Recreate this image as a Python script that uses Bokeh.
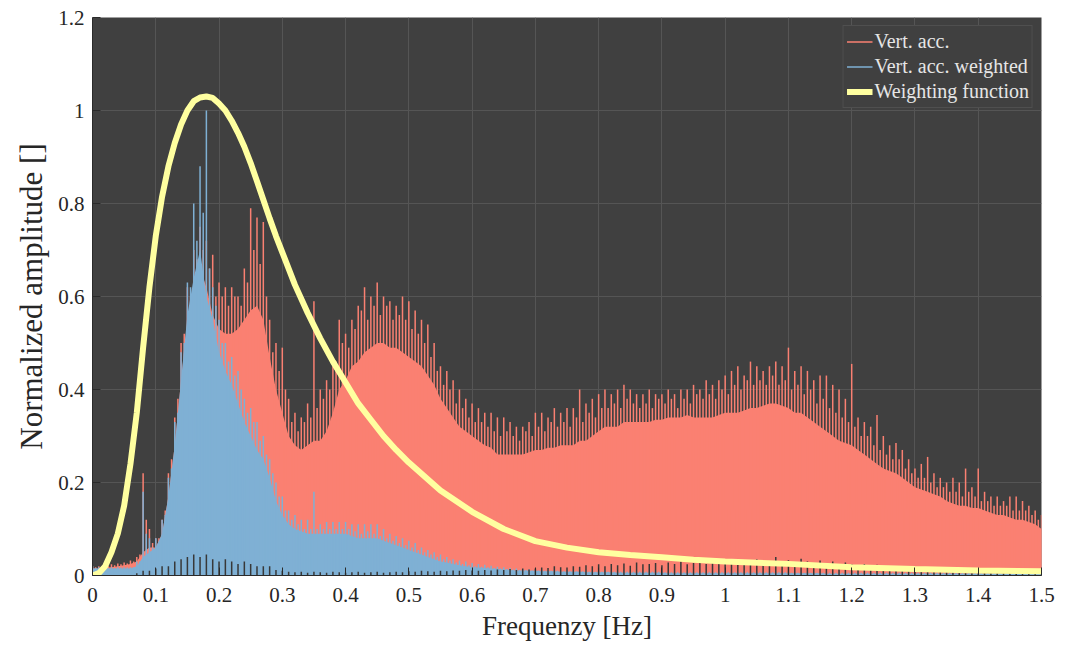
from bokeh.plotting import figure
from bokeh.models import (ColumnDataSource, Legend, LegendItem, Range1d,
                          FixedTicker, CustomJSTickFormatter)
from bokeh.embed import file_html
from bokeh.resources import INLINE

# Frequency grid of the amplitude spectra [Hz]
freq = [round(i * 0.01, 2) for i in range(151)]
# Intermediate bins, half a step to the right
freq_mid = [round(i * 0.01 + 0.005, 3) for i in range(150)]

# Vertical acceleration spectrum: dense level and tallest spike per bin
acc_level = [
    0.015, 0.015, 0.017, 0.018, 0.02, 0.022, 0.025, 0.03, 0.05, 0.06,
    0.06, 0.09, 0.17, 0.28, 0.42, 0.55, 0.62, 0.66, 0.62, 0.56,
    0.53, 0.52, 0.52, 0.53, 0.55, 0.57, 0.58, 0.55, 0.47, 0.40,
    0.35, 0.30, 0.28, 0.27, 0.28, 0.29, 0.29, 0.31, 0.35, 0.40,
    0.42, 0.45, 0.46, 0.48, 0.49, 0.50, 0.50, 0.49, 0.49, 0.48,
    0.47, 0.46, 0.45, 0.43, 0.41, 0.38, 0.36, 0.34, 0.32, 0.31,
    0.30, 0.29, 0.28, 0.275, 0.26, 0.26, 0.26, 0.26, 0.26, 0.265,
    0.27, 0.27, 0.275, 0.275, 0.28, 0.28, 0.28, 0.29, 0.29, 0.30,
    0.31, 0.32, 0.32, 0.32, 0.33, 0.33, 0.33, 0.33, 0.33, 0.335,
    0.335, 0.34, 0.34, 0.34, 0.345, 0.34, 0.34, 0.34, 0.34, 0.345,
    0.35, 0.35, 0.35, 0.355, 0.36, 0.36, 0.365, 0.37, 0.37, 0.365,
    0.36, 0.35, 0.35, 0.34, 0.33, 0.32, 0.31, 0.30, 0.29, 0.285,
    0.28, 0.27, 0.26, 0.25, 0.24, 0.23, 0.225, 0.22, 0.21, 0.20,
    0.19, 0.185, 0.18, 0.175, 0.17, 0.16, 0.155, 0.15, 0.15, 0.145,
    0.145, 0.14, 0.135, 0.13, 0.13, 0.125, 0.12, 0.12, 0.115, 0.11,
    0.10,
]
acc_peak = [
    0.02, 0.02, 0.022, 0.024, 0.026, 0.028, 0.032, 0.04, 0.22, 0.10,
    0.08, 0.12, 0.22, 0.34, 0.50, 0.62, 0.70, 0.75, 0.72, 0.69,
    0.63, 0.62, 0.62, 0.60, 0.66, 0.79, 0.77, 0.76, 0.55, 0.50,
    0.49, 0.38, 0.35, 0.34, 0.37, 0.59, 0.40, 0.42, 0.45, 0.55,
    0.52, 0.55, 0.58, 0.62, 0.60, 0.63, 0.60, 0.59, 0.58, 0.60,
    0.59, 0.57, 0.55, 0.54, 0.50, 0.45, 0.44, 0.42, 0.40, 0.38,
    0.37, 0.36, 0.35, 0.35, 0.34, 0.34, 0.33, 0.32, 0.32, 0.33,
    0.35, 0.35, 0.34, 0.36, 0.35, 0.36, 0.36, 0.40, 0.37, 0.38,
    0.39, 0.40, 0.39, 0.40, 0.41, 0.40, 0.39, 0.39, 0.40, 0.39,
    0.39, 0.40, 0.39, 0.40, 0.40, 0.41, 0.40, 0.42, 0.41, 0.42,
    0.43, 0.44, 0.45, 0.43, 0.46, 0.45, 0.44, 0.45, 0.46, 0.45,
    0.49, 0.44, 0.45, 0.44, 0.42, 0.43, 0.43, 0.41, 0.40, 0.38,
    0.455, 0.34, 0.33, 0.32, 0.345, 0.30, 0.28, 0.285, 0.27, 0.25,
    0.23, 0.24, 0.255, 0.22, 0.21, 0.20, 0.21, 0.20, 0.23, 0.19,
    0.23, 0.18, 0.17, 0.17, 0.16, 0.17, 0.17, 0.16, 0.15, 0.14,
    0.13,
]
acc_mid = [
    0.018, 0.019, 0.02, 0.022, 0.024, 0.026, 0.03, 0.045, 0.12, 0.07,
    0.08, 0.14, 0.25, 0.38, 0.52, 0.60, 0.68, 0.70, 0.66, 0.60,
    0.60, 0.58, 0.60, 0.58, 0.63, 0.70, 0.67, 0.60, 0.48, 0.44,
    0.40, 0.33, 0.31, 0.33, 0.34, 0.36, 0.38, 0.40, 0.46, 0.50,
    0.49, 0.53, 0.57, 0.55, 0.58, 0.56, 0.58, 0.55, 0.56, 0.55,
    0.53, 0.52, 0.50, 0.47, 0.44, 0.41, 0.40, 0.37, 0.36, 0.34,
    0.33, 0.33, 0.32, 0.31, 0.30, 0.31, 0.30, 0.29, 0.31, 0.30,
    0.32, 0.31, 0.33, 0.32, 0.33, 0.32, 0.34, 0.33, 0.35, 0.34,
    0.36, 0.36, 0.37, 0.36, 0.38, 0.37, 0.36, 0.37, 0.36, 0.38,
    0.37, 0.38, 0.36, 0.38, 0.37, 0.39, 0.38, 0.39, 0.38, 0.40,
    0.39, 0.41, 0.40, 0.42, 0.41, 0.42, 0.41, 0.43, 0.41, 0.42,
    0.40, 0.41, 0.39, 0.40, 0.37, 0.38, 0.36, 0.35, 0.34, 0.33,
    0.32, 0.30, 0.30, 0.28, 0.27, 0.26, 0.25, 0.25, 0.23, 0.22,
    0.21, 0.21, 0.20, 0.19, 0.19, 0.18, 0.18, 0.17, 0.18, 0.17,
    0.16, 0.16, 0.15, 0.15, 0.15, 0.14, 0.14, 0.14, 0.13, 0.12,
]

# Weighted vertical acceleration spectrum
wacc_level = [
    0.015, 0.015, 0.015, 0.015, 0.015, 0.015, 0.015, 0.02, 0.04, 0.05,
    0.06, 0.09, 0.17, 0.28, 0.42, 0.56, 0.64, 0.70, 0.60, 0.55,
    0.48, 0.44, 0.41, 0.37, 0.33, 0.30, 0.27, 0.25, 0.21, 0.16,
    0.13, 0.11, 0.10, 0.095, 0.09, 0.09, 0.09, 0.09, 0.09, 0.09,
    0.09, 0.085, 0.08, 0.08, 0.08, 0.08, 0.075, 0.07, 0.065, 0.06,
    0.055, 0.05, 0.045, 0.04, 0.035, 0.03, 0.028, 0.025, 0.022, 0.02,
    0.018, 0.017, 0.016, 0.015, 0.014, 0.013, 0.012, 0.011, 0.011, 0.01,
    0.01, 0.009, 0.009, 0.009, 0.008, 0.008, 0.008, 0.008, 0.007, 0.007,
    0.007, 0.007, 0.007, 0.006, 0.006, 0.006, 0.006, 0.006, 0.006, 0.006,
    0.006, 0.005, 0.005, 0.005, 0.005, 0.005, 0.005, 0.005, 0.005, 0.005,
    0.005, 0.005, 0.005, 0.005, 0.005, 0.005, 0.005, 0.005, 0.005, 0.005,
    0.005, 0.005, 0.005, 0.005, 0.005, 0.005, 0.004, 0.004, 0.004, 0.004,
    0.004, 0.004, 0.004, 0.004, 0.004, 0.004, 0.004, 0.004, 0.004, 0.004,
    0.004, 0.004, 0.004, 0.004, 0.004, 0.004, 0.004, 0.004, 0.004, 0.004,
    0.004, 0.004, 0.004, 0.004, 0.004, 0.004, 0.004, 0.004, 0.004, 0.004,
    0.004,
]
wacc_peak = [
    0.02, 0.018, 0.018, 0.018, 0.018, 0.018, 0.018, 0.03, 0.18, 0.08,
    0.08, 0.12, 0.21, 0.33, 0.48, 0.63, 0.80, 0.88, 1.00, 0.62,
    0.55, 0.50, 0.47, 0.44, 0.38, 0.36, 0.33, 0.30, 0.25, 0.20,
    0.17, 0.14, 0.13, 0.12, 0.12, 0.18, 0.11, 0.115, 0.115, 0.115,
    0.115, 0.11, 0.11, 0.11, 0.11, 0.11, 0.10, 0.09, 0.085, 0.08,
    0.075, 0.07, 0.06, 0.055, 0.05, 0.045, 0.04, 0.035, 0.032, 0.03,
    0.027, 0.025, 0.023, 0.021, 0.019, 0.018, 0.016, 0.015, 0.014, 0.013,
    0.012, 0.012, 0.011, 0.011, 0.01, 0.01, 0.01, 0.01, 0.009, 0.009,
    0.009, 0.009, 0.008, 0.008, 0.008, 0.008, 0.008, 0.008, 0.008, 0.008,
    0.008, 0.007, 0.007, 0.007, 0.007, 0.007, 0.007, 0.007, 0.007, 0.007,
    0.007, 0.007, 0.007, 0.007, 0.007, 0.007, 0.007, 0.007, 0.007, 0.007,
    0.007, 0.007, 0.007, 0.007, 0.007, 0.006, 0.006, 0.006, 0.006, 0.006,
    0.006, 0.006, 0.006, 0.006, 0.006, 0.006, 0.006, 0.006, 0.006, 0.006,
    0.006, 0.006, 0.006, 0.006, 0.006, 0.006, 0.006, 0.006, 0.006, 0.006,
    0.006, 0.006, 0.006, 0.006, 0.006, 0.006, 0.006, 0.006, 0.006, 0.006,
    0.006,
]
wacc_mid = [
    0.016, 0.016, 0.016, 0.016, 0.017, 0.017, 0.018, 0.03, 0.09, 0.06,
    0.07, 0.13, 0.23, 0.35, 0.50, 0.62, 0.72, 0.78, 0.66, 0.58,
    0.50, 0.46, 0.43, 0.40, 0.35, 0.33, 0.29, 0.26, 0.22, 0.17,
    0.14, 0.12, 0.11, 0.10, 0.10, 0.10, 0.10, 0.10, 0.10, 0.10,
    0.10, 0.095, 0.09, 0.095, 0.09, 0.085, 0.08, 0.075, 0.07, 0.065,
    0.06, 0.055, 0.05, 0.045, 0.04, 0.035, 0.032, 0.028, 0.025, 0.022,
    0.02, 0.019, 0.018, 0.016, 0.015, 0.014, 0.013, 0.012, 0.012, 0.011,
    0.011, 0.01, 0.01, 0.01, 0.009, 0.009, 0.009, 0.009, 0.008, 0.008,
    0.008, 0.008, 0.008, 0.008, 0.008, 0.008, 0.008, 0.008, 0.008, 0.008,
    0.007, 0.007, 0.007, 0.007, 0.007, 0.007, 0.007, 0.007, 0.007, 0.007,
    0.007, 0.007, 0.007, 0.007, 0.007, 0.007, 0.007, 0.007, 0.007, 0.007,
    0.006, 0.006, 0.006, 0.006, 0.006, 0.006, 0.006, 0.006, 0.006, 0.006,
    0.006, 0.006, 0.006, 0.006, 0.006, 0.006, 0.006, 0.006, 0.006, 0.006,
    0.006, 0.006, 0.006, 0.006, 0.006, 0.006, 0.006, 0.006, 0.006, 0.006,
    0.006, 0.006, 0.006, 0.006, 0.006, 0.006, 0.006, 0.006, 0.006, 0.006,
]

# Low residual spectrum drawn in the background colour along the baseline
residual = [
    0.0, 0.0, 0.0, 0.0, 0.0, 0.0, 0.0, 0.005, 0.01, 0.01,
    0.015, 0.02, 0.02, 0.03, 0.035, 0.04, 0.045, 0.04, 0.045, 0.035,
    0.03, 0.035, 0.03, 0.025, 0.03, 0.025, 0.02, 0.02, 0.02, 0.012,
    0.01, 0.008, 0.007, 0.008, 0.006, 0.008, 0.007, 0.006, 0.008, 0.007,
    0.006, 0.007, 0.008, 0.006, 0.007, 0.008, 0.006, 0.007, 0.008, 0.007,
    0.009, 0.008, 0.01, 0.009, 0.008, 0.01, 0.009, 0.011, 0.01, 0.012,
    0.011, 0.01, 0.012, 0.011, 0.013, 0.012, 0.014, 0.012, 0.015, 0.013,
    0.015, 0.017, 0.016, 0.02, 0.018, 0.017, 0.02, 0.019, 0.022, 0.02,
    0.024, 0.02, 0.025, 0.022, 0.026, 0.021, 0.028, 0.024, 0.025, 0.027,
    0.022, 0.028, 0.025, 0.03, 0.024, 0.027, 0.029, 0.025, 0.03, 0.026,
    0.028, 0.03, 0.025, 0.032, 0.027, 0.035, 0.03, 0.028, 0.04, 0.03,
    0.033, 0.028, 0.036, 0.03, 0.027, 0.032, 0.026, 0.03, 0.025, 0.028,
    0.024, 0.022, 0.025, 0.02, 0.023, 0.019, 0.02, 0.018, 0.017, 0.016,
    0.014, 0.015, 0.013, 0.012, 0.013, 0.011, 0.012, 0.01, 0.011, 0.01,
    0.01, 0.009, 0.01, 0.009, 0.009, 0.008, 0.009, 0.008, 0.008, 0.008,
    0.008,
]

# Weighting function of the vertical acceleration
w_freq = [0.0, 0.01, 0.02, 0.03, 0.04, 0.05, 0.06, 0.07, 0.08, 0.09,
          0.10, 0.11, 0.12, 0.13, 0.14, 0.15, 0.16, 0.17, 0.18, 0.19,
          0.20, 0.21, 0.22, 0.23, 0.24, 0.25, 0.26, 0.27, 0.28, 0.29,
          0.30, 0.32, 0.34, 0.36, 0.38, 0.40, 0.42, 0.44, 0.46, 0.48,
          0.50, 0.55, 0.60, 0.65, 0.70, 0.75, 0.80, 0.85, 0.90, 0.95,
          1.00, 1.10, 1.20, 1.30, 1.40, 1.50]
w_val = [0.0, 0.005, 0.02, 0.05, 0.09, 0.15, 0.24, 0.35, 0.49, 0.62,
         0.73, 0.815, 0.88, 0.93, 0.97, 1.0, 1.02, 1.028, 1.03, 1.027,
         1.015, 1.0, 0.978, 0.952, 0.922, 0.887, 0.848, 0.808, 0.768, 0.73,
         0.695, 0.625, 0.565, 0.51, 0.46, 0.415, 0.37, 0.335, 0.30, 0.27,
         0.243, 0.183, 0.137, 0.10, 0.074, 0.06, 0.05, 0.044, 0.039, 0.034,
         0.03, 0.025, 0.018, 0.014, 0.011, 0.009]

x_ticks = [0.0, 0.1, 0.2, 0.3, 0.4, 0.5, 0.6, 0.7, 0.8, 0.9,
           1.0, 1.1, 1.2, 1.3, 1.4, 1.5]
y_ticks = [0.0, 0.2, 0.4, 0.6, 0.8, 1.0, 1.2]

BG = "#404040"
SALMON = "#fa8072"
BLUE = "#7fb0d4"
YELLOW = "#ffffa0"
FONT = "Liberation Serif"
INK = "#262626"

src = ColumnDataSource(dict(freq=freq, zero=[0.0] * len(freq),
                            acc_level=acc_level, acc_peak=acc_peak,
                            wacc_level=wacc_level, wacc_peak=wacc_peak,
                            residual=residual))
src_mid = ColumnDataSource(dict(freq=freq_mid, zero=[0.0] * len(freq_mid),
                                acc_mid=acc_mid, wacc_mid=wacc_mid))

p = figure(width=1071, height=646,
           x_range=Range1d(0, 1.5), y_range=Range1d(0, 1.2),
           output_backend="svg", toolbar_location=None,
           min_border_left=92, min_border_right=30,
           min_border_top=17, min_border_bottom=71)
p.background_fill_color = BG
p.border_fill_color = "white"
p.outline_line_color = None

# raw spectrum
p.varea(x="freq", y1="zero", y2="acc_level", source=src, fill_color=SALMON)
acc_r = p.segment(x0="freq", y0="zero", x1="freq", y1="acc_peak", source=src,
                  line_color=SALMON, line_width=1.5)
p.segment(x0="freq", y0="zero", x1="freq", y1="acc_mid", source=src_mid,
          line_color=SALMON, line_width=1.5)
# weighted spectrum
p.varea(x="freq", y1="zero", y2="wacc_level", source=src, fill_color=BLUE)
wacc_r = p.segment(x0="freq", y0="zero", x1="freq", y1="wacc_peak", source=src,
                   line_color=BLUE, line_width=1.5)
p.segment(x0="freq", y0="zero", x1="freq", y1="wacc_mid", source=src_mid,
          line_color=BLUE, line_width=1.5)
# baseline residual
p.segment(x0="freq", y0="zero", x1="freq", y1="residual", source=src,
          line_color="#383838", line_width=1.5)
# weighting function
wf = p.line(w_freq, w_val, line_color=YELLOW, line_width=6)

legend = Legend(items=[LegendItem(label="Vert. acc.", renderers=[acc_r]),
                       LegendItem(label="Vert. acc. weighted", renderers=[wacc_r]),
                       LegendItem(label="Weighting function", renderers=[wf])],
                location="top_right")
legend.margin = 8
legend.padding = 3
legend.spacing = 0
legend.glyph_width = 26
legend.glyph_height = 25
legend.label_height = 25
legend.label_standoff = 2
legend.label_text_font = FONT
legend.label_text_font_size = "20px"
legend.label_text_color = "#e6e6e6"
legend.background_fill_color = BG
legend.background_fill_alpha = 1.0
legend.border_line_color = "#5e5e5e"
legend.border_line_width = 1
p.add_layout(legend, "center")

fmt = CustomJSTickFormatter(code="return tick.toFixed(1).replace(/\\.0$/, '');")

p.xaxis.ticker = FixedTicker(ticks=x_ticks)
p.yaxis.ticker = FixedTicker(ticks=y_ticks)
p.xaxis.formatter = fmt
p.yaxis.formatter = fmt

p.xgrid.grid_line_color = "#555555"
p.ygrid.grid_line_color = "#555555"
p.xgrid.grid_line_width = 1
p.ygrid.grid_line_width = 1

for ax in (p.xaxis[0], p.yaxis[0]):
    ax.axis_line_color = "#2a2a2a"
    ax.major_tick_line_color = "#2a2a2a"
    ax.major_tick_in = 8
    ax.major_tick_out = 0
    ax.minor_tick_line_color = None
    ax.major_label_text_font = FONT
    ax.major_label_text_font_size = "21px"
    ax.major_label_text_color = INK
    ax.axis_label_text_font = FONT
    ax.axis_label_text_font_style = "normal"
    ax.axis_label_text_color = INK

p.xaxis.axis_label = "Frequenzy [Hz]"
p.yaxis.axis_label = "Normalized amplitude []"
p.xaxis.axis_label_text_font_size = "27px"
p.yaxis.axis_label_text_font_size = "31px"
p.xaxis.major_label_standoff = 12
p.xaxis.axis_label_standoff = 6
p.yaxis.major_label_standoff = 8
p.yaxis.axis_label_standoff = 6

open("out.html", "w").write(file_html(p, INLINE))
